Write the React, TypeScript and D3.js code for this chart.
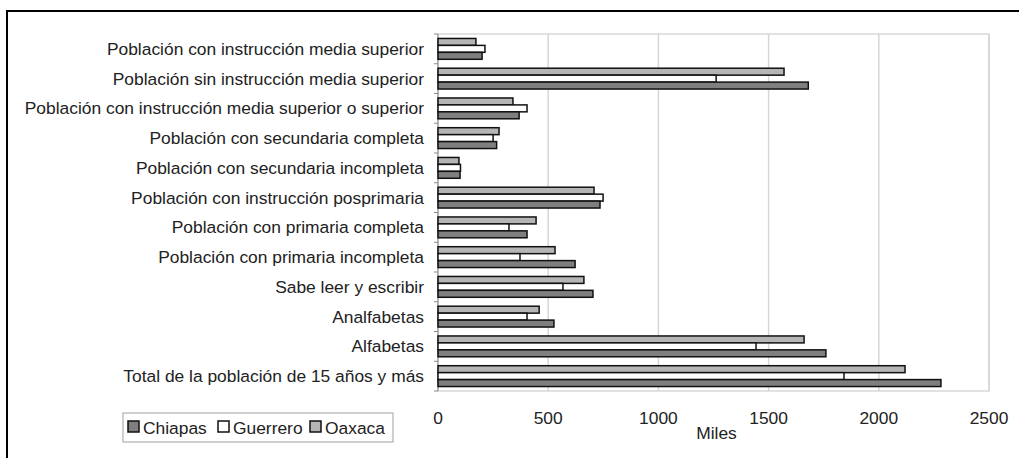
import React from "react";
import * as d3 from "d3";

const categories = [
  "Población con instrucción media superior",
  "Población sin instrucción media superior",
  "Población con instrucción media superior o superior",
  "Población con secundaria completa",
  "Población con secundaria incompleta",
  "Población con instrucción posprimaria",
  "Población con primaria completa",
  "Población con primaria incompleta",
  "Sabe leer y escribir",
  "Analfabetas",
  "Alfabetas",
  "Total de la población de 15 años y más",
];

const seriesNames = ["Chiapas", "Guerrero", "Oaxaca"];

const chiapas = [200, 1680, 368, 266, 100, 735, 404, 622, 703, 526, 1760, 2282];
const guerrero = [213, 1262, 404, 250, 102, 749, 322, 372, 567, 404, 1443, 1842];
const oaxaca = [172, 1570, 340, 277, 95, 708, 445, 531, 662, 459, 1661, 2119];

const xTicks = [0, 500, 1000, 1500, 2000, 2500];
const axisTitle = "Miles";

const colors: Record<string, string> = {
  Chiapas: "#7f7f7f",
  Guerrero: "#ffffff",
  Oaxaca: "#b5b5b5",
};

const seriesValues: Record<string, number[]> = {
  Chiapas: chiapas,
  Guerrero: guerrero,
  Oaxaca: oaxaca,
};

export default function App() {
  const W = 1019;
  const H = 458;
  const left = 438;
  const right = 989;
  const top = 34;
  const bottom = 391;
  const font = "'Liberation Sans', Arial, sans-serif";
  const fs = 17.4;

  const x = d3.scaleLinear().domain([0, 2500]).range([left, right]);
  const y = d3
    .scaleBand<string>()
    .domain(categories)
    .range([top, bottom])
    .paddingInner(0.3)
    .paddingOuter(0.15);
  // within group, top to bottom: Oaxaca, Guerrero, Chiapas
  const inner = d3
    .scaleBand<string>()
    .domain(["Oaxaca", "Guerrero", "Chiapas"])
    .range([0, y.bandwidth()]);
  const step = (bottom - top) / categories.length;

  return (
    <svg
      width={W}
      height={H}
      style={{ position: "absolute", left: 0, top: 0, background: "#fff" }}
      fontFamily={font}
    >
      {/* outer frame */}
      <rect x={7} y={11} width={W + 20} height={H + 20} fill="none" stroke="#000" strokeWidth={2} />

      {/* plot area border */}
      <rect x={left} y={top} width={right - left} height={bottom - top} fill="none" stroke="#d9d9d9" strokeWidth={1.5} />

      {/* gridlines */}
      {xTicks.slice(1).map((t) => (
        <line key={t} x1={x(t)} x2={x(t)} y1={top} y2={bottom} stroke="#d6d6d6" strokeWidth={1.5} />
      ))}

      {/* left axis */}
      <line x1={left} x2={left} y1={top} y2={bottom} stroke="#8a8a8a" strokeWidth={1} />
      {d3.range(categories.length + 1).map((i) => (
        <line key={i} x1={left - 4} x2={left} y1={top + i * step} y2={top + i * step} stroke="#8a8a8a" strokeWidth={1} />
      ))}

      {/* bars */}
      {categories.map((c, ci) =>
        ["Oaxaca", "Guerrero", "Chiapas"].map((s) => (
          <rect
            key={c + s}
            x={x(0)}
            y={(y(c) as number) + (inner(s) as number)}
            width={x(seriesValues[s][ci]) - x(0)}
            height={inner.bandwidth()}
            fill={colors[s]}
            stroke="#111"
            strokeWidth={1.5}
          />
        ))
      )}

      {/* category labels */}
      {categories.map((c) => (
        <text
          key={c}
          x={424}
          y={(y(c) as number) + y.bandwidth() / 2}
          textAnchor="end"
          dominantBaseline="central"
          fontSize={fs}
          fill="#222"
        >
          {c}
        </text>
      ))}

      {/* x tick labels */}
      {xTicks.map((t) => (
        <text key={t} x={x(t)} y={424} textAnchor="middle" fontSize={fs} fill="#222">
          {t}
        </text>
      ))}
      <text x={(left + right) / 2 + 3} y={439} textAnchor="middle" fontSize={fs} fill="#222">
        {axisTitle}
      </text>

      {/* legend */}
      <rect x={123} y={413} width={270} height={29} fill="#fff" stroke="#a0a0a0" strokeWidth={1} />
      {seriesNames.map((s, i) => {
        const offsets = [128, 218, 310];
        const lx = offsets[i];
        return (
          <g key={s}>
            <rect x={lx} y={421} width={11} height={11} fill={colors[s]} stroke="#111" strokeWidth={1.5} />
            <text x={lx + 15} y={427.5} dominantBaseline="central" fontSize={fs} fill="#222">
              {s}
            </text>
          </g>
        );
      })}
    </svg>
  );
}
